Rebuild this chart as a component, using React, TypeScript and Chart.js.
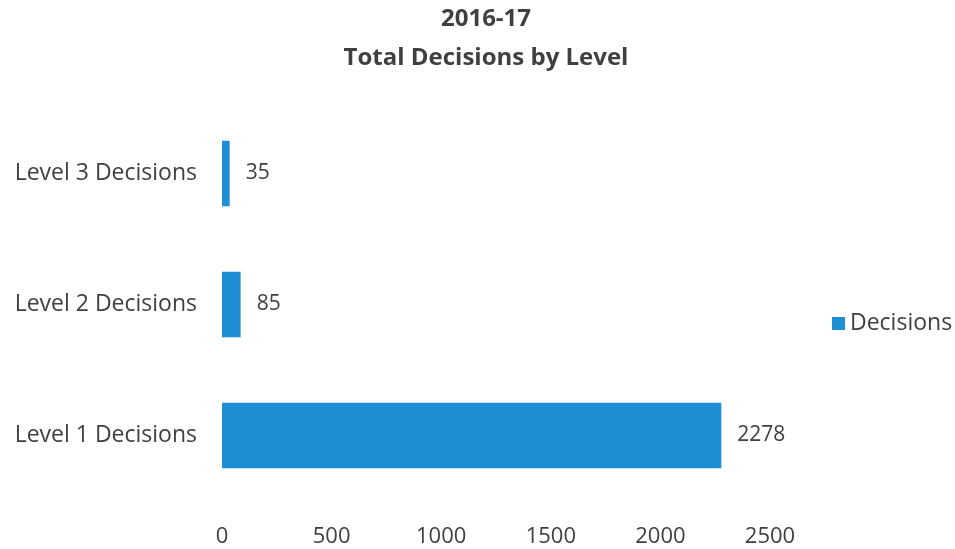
import React, { useEffect, useRef } from "react";
import { Chart, registerables } from "chart.js";

Chart.register(...registerables);

const TITLE_LINES = ["2016-17", "Total Decisions by Level"];
const CATEGORIES = ["Level 3 Decisions", "Level 2 Decisions", "Level 1 Decisions"];
const SERIES_NAME = "Decisions";
const DECISIONS = [35, 85, 2278];
const X_MIN = 0;
const X_MAX = 2500;
const X_STEP = 500;

const FONT = "'Open Sans', 'DejaVu Sans', sans-serif";
const TEXT = "#404040";
const BAR = "#1e8fd5";

const valueLabels = {
  id: "valueLabels",
  afterDatasetsDraw(chart: any) {
    const ctx = chart.ctx;
    const meta = chart.getDatasetMeta(0);
    const data = chart.data.datasets[0].data as number[];
    ctx.save();
    ctx.font = `21px ${FONT}`;
    ctx.fillStyle = TEXT;
    ctx.textAlign = "left";
    ctx.textBaseline = "middle";
    meta.data.forEach((el: any, i: number) => {
      ctx.fillText(String(data[i]), el.x + 16, el.y);
    });
    ctx.restore();
  },
};

const sideLegend = {
  id: "sideLegend",
  afterDraw(chart: any) {
    const ctx = chart.ctx;
    const area = chart.chartArea;
    const ds = chart.data.datasets[0];
    const cy = (area.top + area.bottom) / 2 + 19;
    const x = area.right + 62;
    ctx.save();
    ctx.fillStyle = ds.backgroundColor;
    ctx.fillRect(x, cy - 6.5, 13, 13);
    ctx.font = `23px ${FONT}`;
    ctx.fillStyle = TEXT;
    ctx.textAlign = "left";
    ctx.textBaseline = "middle";
    ctx.fillText(ds.label, x + 18, cy);
    ctx.restore();
  },
};

export default function App() {
  const ref = useRef<HTMLCanvasElement | null>(null);

  useEffect(() => {
    document.body.style.margin = "0";
    const canvas = ref.current;
    if (!canvas) return;
    const chart = new Chart(canvas, {
      type: "bar",
      data: {
        labels: CATEGORIES,
        datasets: [
          {
            label: SERIES_NAME,
            data: DECISIONS,
            backgroundColor: BAR,
            borderWidth: 0,
            barPercentage: 0.5,
            categoryPercentage: 1,
          },
        ],
      },
      options: {
        indexAxis: "y",
        animation: false,
        responsive: true,
        maintainAspectRatio: false,
        layout: { padding: { left: 17, right: 0, top: 0, bottom: 0 } },
        plugins: {
          legend: { display: false },
          tooltip: { enabled: false },
          title: {
            display: true,
            text: TITLE_LINES,
            color: TEXT,
            font: { family: FONT, size: 24, weight: "bold", lineHeight: 39 / 24 },
            padding: { top: 0, bottom: 30 },
          },
        },
        scales: {
          x: {
            min: X_MIN,
            max: X_MAX,
            grid: { display: false, drawTicks: false },
            border: { display: false },
            ticks: {
              stepSize: X_STEP,
              color: TEXT,
              padding: 23,
              font: { family: FONT, size: 22 },
              callback: (v: any) => String(v),
            },
            afterFit(scale: any) {
              scale.height = 48;
              scale.paddingRight = 185;
            },
          },
          y: {
            grid: { display: false, drawTicks: false },
            border: { display: false },
            ticks: {
              color: TEXT,
              padding: 25,
              font: { family: FONT, size: 23 },
            },
            afterFit(scale: any) {
              scale.width = 205;
            },
          },
        },
      },
      plugins: [valueLabels, sideLegend],
    });
    return () => chart.destroy();
  }, []);

  return (
    <div style={{ position: "relative", width: "955px", height: "549px" }}>
      <canvas ref={ref} />
    </div>
  );
}
